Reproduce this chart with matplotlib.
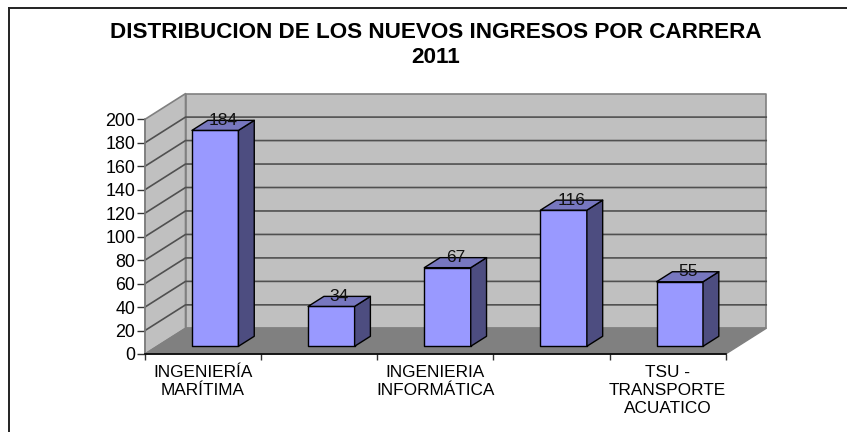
import matplotlib
matplotlib.use('Agg')
import matplotlib.pyplot as plt
from matplotlib.lines import Line2D
from matplotlib.patches import Polygon

plt.rcParams['font.family'] = ['Liberation Sans', 'DejaVu Sans']

title = 'DISTRIBUCION DE LOS NUEVOS INGRESOS POR CARRERA\n2011'
values = [184, 34, 67, 116, 55]
# the original only prints every other label
categories = ['INGENIERÍA\nMARÍTIMA', '', 'INGENIERIA\nINFORMÁTICA', '', 'TSU -\nTRANSPORTE\nACUATICO']
y_ticks = list(range(0, 201, 20))

W, H = 847, 432
DEPTH_X = 40.5 / 116.1   # depth of the box, in category units
DEPTH_Y = 25.6 / 1.17    # depth of the box, in value units
BAR_W = 0.4
D_FRONT, D_BACK = 0.3, 0.69


def proj(x, y, d):
    # oblique projection: d=0 front plane, d=1 back wall
    return (x + d * DEPTH_X, y + d * DEPTH_Y)


def face(ax, pts, fc, ec='black', lw=1.0, z=2):
    ax.add_patch(Polygon(pts, closed=True, facecolor=fc, edgecolor=ec, linewidth=lw,
                         joinstyle='round', zorder=z, clip_on=False))


fig = plt.figure(figsize=(W / 100, H / 100), dpi=100)
ax = fig.add_axes([145 / W, 1 - 354 / H, (725.7 - 145) / W, (354 - 119.3) / H])
ax.patch.set_visible(False)
n = len(values)
ax.set_xlim(0, n)
ax.set_ylim(0, 200)

# walls and floor
top = y_ticks[-1]
face(ax, [proj(0, 0, 0), proj(0, top, 0), proj(0, top, 1), proj(0, 0, 1)], '#c0c0c0', '#808080', 1.2, 1)
face(ax, [proj(0, 0, 1), proj(0, top, 1), proj(n, top, 1), proj(n, 0, 1)], '#c0c0c0', '#808080', 1.2, 1)
face(ax, [proj(0, 0, 0), proj(n, 0, 0), proj(n, 0, 1), proj(0, 0, 1)], '#808080', '#808080', 1.0, 1)

# gridlines run along the side wall and then the back wall
for t in y_ticks[1:-1]:
    xs, ys = zip(proj(0, t, 0), proj(0, t, 1), proj(n, t, 1))
    ax.plot(xs, ys, color='#505050', lw=1.2, zorder=1.5, clip_on=False, solid_joinstyle='miter')

for i, v in enumerate(values):
    x0 = i + 0.5 - BAR_W / 2
    x1 = i + 0.5 + BAR_W / 2
    face(ax, [proj(x0, 0, D_FRONT), proj(x1, 0, D_FRONT), proj(x1, v, D_FRONT), proj(x0, v, D_FRONT)], '#9999ff')
    face(ax, [proj(x1, 0, D_FRONT), proj(x1, 0, D_BACK), proj(x1, v, D_BACK), proj(x1, v, D_FRONT)], '#4d4d80')
    face(ax, [proj(x0, v, D_FRONT), proj(x1, v, D_FRONT), proj(x1, v, D_BACK), proj(x0, v, D_BACK)], '#7777bf')
    lx = proj(i + 0.5, v, 0.5)[0]
    ly = proj(i + 0.5, v, D_BACK)[1]
    ax.text(lx, ly, str(v), ha='center', va='center', fontsize=12.5, color='#111111', zorder=5, clip_on=False)

for s in ['top', 'right']:
    ax.spines[s].set_visible(False)
ax.spines['left'].set_color('#808080')
ax.spines['left'].set_linewidth(1.2)
ax.spines['bottom'].set_color('black')
ax.spines['bottom'].set_linewidth(1.2)
ax.spines['left'].set_zorder(3)
ax.spines['bottom'].set_zorder(3)

ax.set_yticks(y_ticks)
ax.tick_params(axis='y', length=6, width=1, color='#333333', pad=1, labelsize=12.9)
ax.set_xticks(range(n + 1))
ax.set_xticklabels([])
ax.tick_params(axis='x', which='major', length=4, width=1, color='#333333')
ax.set_xticks([i + 0.5 for i in range(n)], minor=True)
ax.set_xticklabels(categories, minor=True, fontsize=12.4, linespacing=1.25)
ax.tick_params(axis='x', which='minor', length=0, pad=8)

fig.text(436 / W, 1 - 45 / H, title, ha='center', va='center', fontsize=16.2, fontweight='bold', linespacing=1.22)

# chart frame, cut off by the image on the right and bottom
fig.add_artist(Line2D([9 / W, 9 / W], [0, 1 - 7.5 / H], color='#222222', lw=1.4))
fig.add_artist(Line2D([9 / W, 1], [1 - 7.5 / H, 1 - 7.5 / H], color='#222222', lw=1.4))

fig.savefig('out.png', dpi=100)
